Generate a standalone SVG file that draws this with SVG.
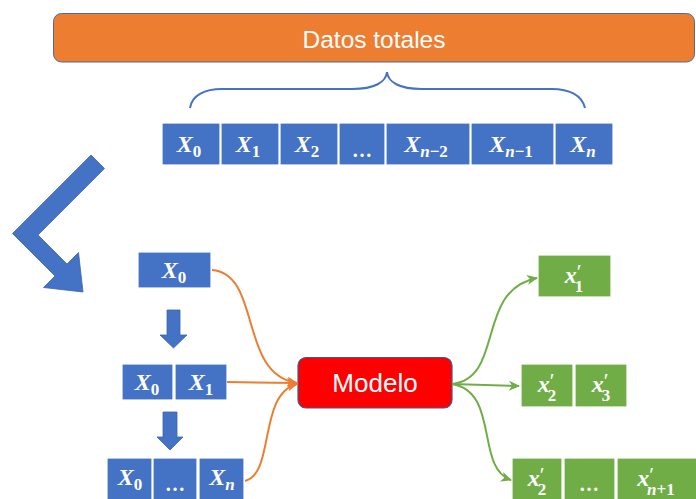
<svg xmlns="http://www.w3.org/2000/svg" width="696" height="499" viewBox="0 0 696 499">
  <defs>
    <style>
      .blue { fill: #4472C4; stroke: #FFFFFF; stroke-width: 1.2; }
      .green { fill: #70AD47; stroke: #FFFFFF; stroke-width: 1.2; }
      .shape { fill: #4472C4; stroke: #3A64B0; stroke-width: 0.8; }
      .m { font-family: "Liberation Serif", "DejaVu Serif", serif; font-weight: bold; fill: #FFFFFF; text-anchor: middle; }
      .v { font-style: italic; font-size: 24px; }
      .sub { font-size: 17px; }
      .pr { font-size: 22px; font-weight: normal; }
      .dots { font-size: 20px; }
      .it { font-style: italic; }
      .lbl { font-family: "Liberation Sans", Arial, sans-serif; fill: #FFFFFF; text-anchor: middle; }
      .oc { fill: none; stroke: #ED7D31; stroke-width: 2; marker-end: url(#headO); }
      .gc { fill: none; stroke: #70AD47; stroke-width: 2; marker-end: url(#headG); }
    </style>
    <marker id="headO" markerUnits="userSpaceOnUse" markerWidth="12" markerHeight="10" refX="10" refY="5" orient="auto">
      <path d="M0,0 L11,5 L0,10 L3,5 Z" fill="#ED7D31"/>
    </marker>
    <marker id="headG" markerUnits="userSpaceOnUse" markerWidth="12" markerHeight="10" refX="10" refY="5" orient="auto">
      <path d="M0,0 L11,5 L0,10 L3,5 Z" fill="#70AD47"/>
    </marker>
  </defs>

  <!-- header bar -->
  <g id="datos-totales">
    <rect x="53.5" y="13.5" width="641" height="48.5" rx="8" fill="#ED7D31" stroke="#4A6E9A" stroke-width="1"/>
    <text class="lbl" x="374" y="48" font-size="24.5">Datos totales</text>
  </g>

  <!-- curly brace over the sequence -->
  <g id="brace">
    <path d="M190,108 C192,95 205,89 222,89 L352,89 C375,89 386,82 387,72 C388,82 399,89 422,89 L552,89 C569,89 582,95 585,108" fill="none" stroke="#4472C4" stroke-width="2"/>
  </g>

  <!-- full sequence -->
  <g id="sequence">
    <rect class="blue" x="162" y="123" width="58" height="42"/>
    <rect class="blue" x="221" y="123" width="58" height="42"/>
    <rect class="blue" x="280" y="123" width="58" height="42"/>
    <rect class="blue" x="339" y="123" width="46" height="42"/>
    <rect class="blue" x="386" y="123" width="84" height="42"/>
    <rect class="blue" x="471" y="123" width="83" height="42"/>
    <rect class="blue" x="555" y="123" width="58" height="42"/>
    <text class="m" x="189" y="152"><tspan class="v">X</tspan><tspan class="sub" dy="5">0</tspan></text>
    <text class="m" x="248" y="152"><tspan class="v">X</tspan><tspan class="sub" dy="5">1</tspan></text>
    <text class="m" x="307" y="152"><tspan class="v">X</tspan><tspan class="sub" dy="5">2</tspan></text>
    <text class="m dots" x="362" y="157">…</text>
    <text class="m" x="426" y="152"><tspan class="v">X</tspan><tspan class="sub" dy="5"><tspan class="it">n</tspan>−2</tspan></text>
    <text class="m" x="511" y="152"><tspan class="v">X</tspan><tspan class="sub" dy="5"><tspan class="it">n</tspan>−1</tspan></text>
    <text class="m" x="583" y="152"><tspan class="v">X</tspan><tspan class="sub it" dy="5">n</tspan></text>
  </g>

  <!-- bent arrow -->
  <g id="bent-arrow">
    <polygon class="shape" points="91,155 12.5,233.5 55,276 43.5,287.5 83,292 78.5,252.5 67,264 38,235 104.5,168.5"/>
  </g>

  <!-- growing windows -->
  <g id="window-1">
    <rect class="blue" x="138" y="252" width="73" height="36"/>
    <text class="m" x="174" y="278"><tspan class="v">X</tspan><tspan class="sub" dy="5">0</tspan></text>
  </g>
  <g id="step-1">
    <polygon class="shape" points="167,310 180,310 180,335 187,335 173.5,348 160,335 167,335"/>
  </g>
  <g id="window-2">
    <rect class="blue" x="122" y="364" width="51" height="36"/>
    <rect class="blue" x="175" y="364" width="52" height="36"/>
    <text class="m" x="147" y="390"><tspan class="v">X</tspan><tspan class="sub" dy="5">0</tspan></text>
    <text class="m" x="201" y="390"><tspan class="v">X</tspan><tspan class="sub" dy="5">1</tspan></text>
  </g>
  <g id="step-2">
    <polygon class="shape" points="163,412 177,412 177,437 183,437 170,450 157,437 163,437"/>
  </g>
  <g id="window-3">
    <rect class="blue" x="107" y="458" width="45" height="42"/>
    <rect class="blue" x="153" y="458" width="44" height="42"/>
    <rect class="blue" x="199" y="458" width="45" height="42"/>
    <text class="m" x="130" y="485"><tspan class="v">X</tspan><tspan class="sub" dy="5">0</tspan></text>
    <text class="m dots" x="175" y="491">…</text>
    <text class="m" x="222" y="485"><tspan class="v">X</tspan><tspan class="sub it" dy="5">n</tspan></text>
  </g>

  <!-- model -->
  <g id="modelo">
    <rect x="298" y="357.5" width="154" height="50.5" rx="8" fill="#FF0000" stroke="#3A5A9A" stroke-width="1.2"/>
    <text class="lbl" x="375" y="392" font-size="26">Modelo</text>
  </g>

  <!-- predictions -->
  <g id="pred-1">
    <rect class="green" x="538" y="255" width="73" height="42"/>
    <text class="m" x="574" y="283"><tspan class="v">x</tspan><tspan class="pr" dx="0" dy="-4">′</tspan><tspan class="sub" dx="-7" dy="13">1</tspan></text>
  </g>
  <g id="pred-2">
    <rect class="green" x="521" y="364" width="52" height="43"/>
    <rect class="green" x="575" y="364" width="52" height="43"/>
    <text class="m" x="547" y="392"><tspan class="v">x</tspan><tspan class="pr" dy="-4">′</tspan><tspan class="sub" dx="-7" dy="13">2</tspan></text>
    <text class="m" x="601" y="392"><tspan class="v">x</tspan><tspan class="pr" dy="-4">′</tspan><tspan class="sub" dx="-7" dy="13">3</tspan></text>
  </g>
  <g id="pred-3">
    <rect class="green" x="512" y="458" width="50" height="42"/>
    <rect class="green" x="564" y="458" width="51" height="42"/>
    <rect class="green" x="617" y="458" width="80" height="42"/>
    <text class="m" x="537" y="486"><tspan class="v">x</tspan><tspan class="pr" dy="-4">′</tspan><tspan class="sub" dx="-7" dy="13">2</tspan></text>
    <text class="m dots" x="589" y="491">…</text>
    <text class="m" x="656" y="486"><tspan class="v">x</tspan><tspan class="pr" dy="-4">′</tspan><tspan class="sub" dx="-7" dy="13"><tspan class="it">n</tspan>+1</tspan></text>
  </g>

  <!-- connectors -->
  <g id="connectors">
    <path class="oc" d="M212,270 C262,274 238,374 297,383"/>
    <path class="oc" d="M227,382 L297,383"/>
    <path class="oc" d="M245,481 C275,474 258,394 297,384"/>
    <path class="gc" d="M452,384 C505,378 475,290 537,278"/>
    <path class="gc" d="M452,384 L519,386"/>
    <path class="gc" d="M452,384 C500,392 475,468 511,480"/>
  </g>
</svg>
